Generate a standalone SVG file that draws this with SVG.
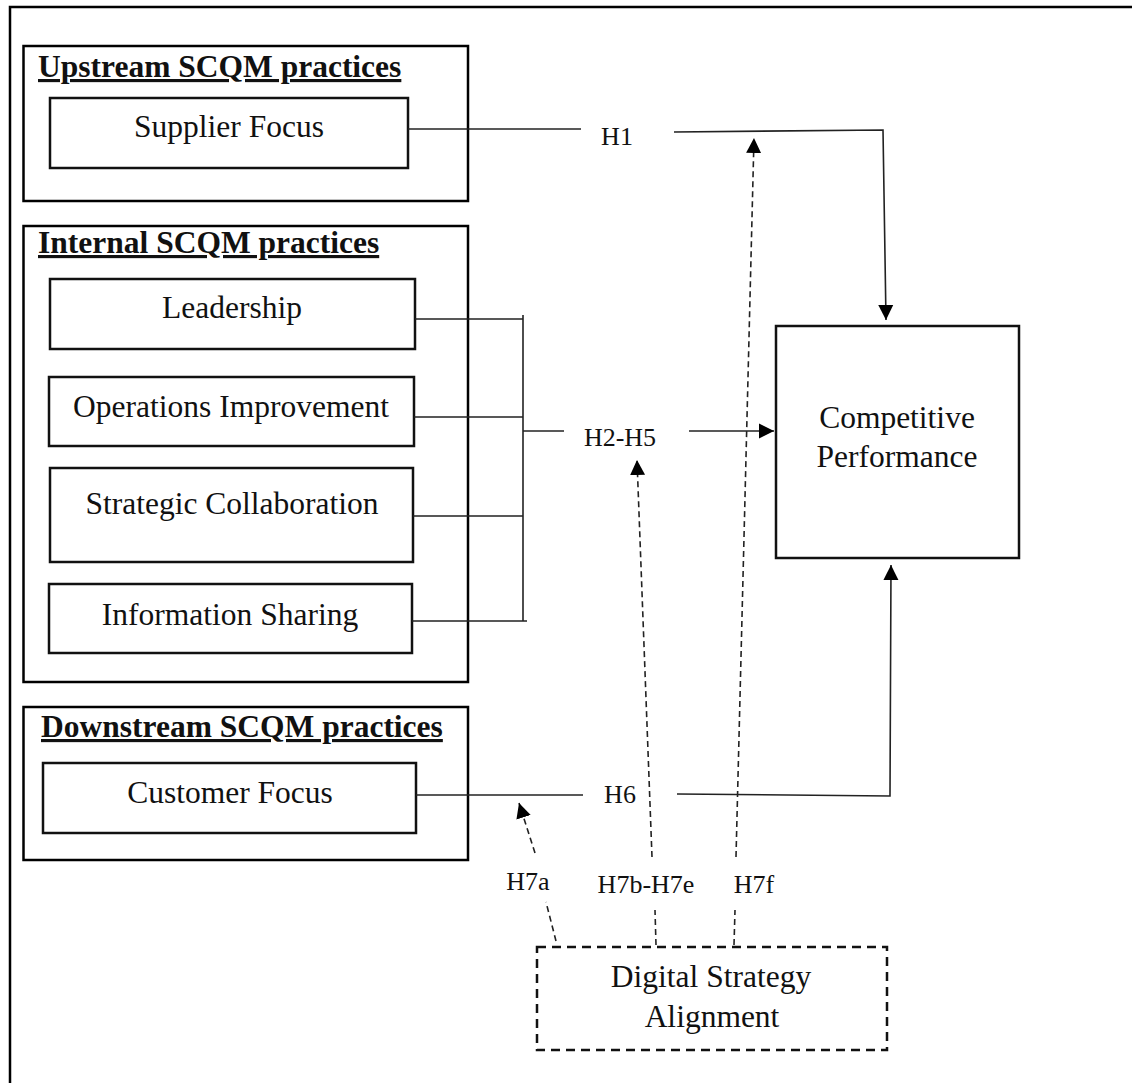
<svg xmlns="http://www.w3.org/2000/svg" width="1132" height="1083" viewBox="0 0 1132 1083">
<defs>
<style>
.frame{fill:none;stroke:#000;stroke-width:2.5}
.box{fill:#fff;stroke:#111;stroke-width:2.5}
.dbox{fill:#fff;stroke:#111;stroke-width:2.5;stroke-dasharray:9 6}
.t{font-family:"Liberation Serif","Times New Roman",serif;font-size:31.5px;fill:#111;text-anchor:middle}
.title{font-family:"Liberation Serif","Times New Roman",serif;font-size:31.5px;font-weight:bold;fill:#111;text-decoration:underline}
.h{font-family:"Liberation Serif","Times New Roman",serif;font-size:26px;fill:#111;text-anchor:middle}
.ln{fill:none;stroke:#222;stroke-width:1.6}
.dl{fill:none;stroke:#222;stroke-width:1.6;stroke-dasharray:6 4}
</style>
<marker id="ah" markerUnits="userSpaceOnUse" viewBox="0 0 16 16" markerWidth="16" markerHeight="16" refX="15" refY="8" orient="auto">
<path d="M0,0.5 L15,8 L0,15.5 z" fill="#000"/>
</marker>
</defs>
<rect width="1132" height="1083" fill="#fff"/>
<path class="frame" d="M10,1083 V7 H1132"/>

<g id="upstream">
<rect class="frame" x="23.5" y="46" width="444.5" height="155"/>
<text class="title" x="38" y="77">Upstream SCQM practices</text>
</g>
<g id="supplier-focus">
<rect class="box" x="50" y="98" width="358" height="70"/>
<text class="t" x="229" y="137">Supplier Focus</text>
</g>

<g id="internal">
<rect class="frame" x="23.5" y="226" width="444.5" height="456"/>
<text class="title" x="38" y="253">Internal SCQM practices</text>
</g>
<g id="leadership">
<rect class="box" x="50" y="279" width="365" height="70"/>
<text class="t" x="232" y="318">Leadership</text>
</g>
<g id="operations-improvement">
<rect class="box" x="49" y="377" width="365" height="69"/>
<text class="t" x="231" y="417">Operations Improvement</text>
</g>
<g id="strategic-collaboration">
<rect class="box" x="50" y="468" width="363" height="94"/>
<text class="t" x="232" y="514">Strategic Collaboration</text>
</g>
<g id="information-sharing">
<rect class="box" x="49" y="584" width="363" height="69"/>
<text class="t" x="230" y="625">Information Sharing</text>
</g>

<g id="downstream">
<rect class="frame" x="23.5" y="707" width="444.5" height="153"/>
<text class="title" x="41" y="737">Downstream SCQM practices</text>
</g>
<g id="customer-focus">
<rect class="box" x="43" y="763" width="373" height="70"/>
<text class="t" x="230" y="803">Customer Focus</text>
</g>

<g id="competitive-performance">
<rect class="box" x="776" y="326" width="243" height="232"/>
<text class="t" x="897" y="428">Competitive</text>
<text class="t" x="897" y="467">Performance</text>
</g>

<g id="digital-strategy-alignment">
<rect class="dbox" x="537" y="947" width="350" height="103"/>
<text class="t" x="711" y="987">Digital Strategy</text>
<text class="t" x="712" y="1027">Alignment</text>
</g>

<g id="connectors">
<path class="ln" d="M408,129 H581"/>
<path class="ln" d="M674,132 L883,130 L886,320" marker-end="url(#ah)"/>
<text class="h" x="617" y="145">H1</text>

<path class="ln" d="M415,319 H523 M414,417 H523 M413,516 H523 M412,621 H527 M523,315 V621"/>
<path class="ln" d="M523,431 H564"/>
<path class="ln" d="M689,431 H774" marker-end="url(#ah)"/>
<text class="h" x="620" y="446">H2-H5</text>

<path class="ln" d="M416,795 H583"/>
<path class="ln" d="M677,794 L890,796 L891,565" marker-end="url(#ah)"/>
<text class="h" x="620" y="803">H6</text>

<path class="dl" d="M556,941 L546,902"/>
<path class="dl" d="M535,853 L519,803" marker-end="url(#ah)"/>
<text class="h" x="528" y="890">H7a</text>

<path class="dl" d="M656,945 L655,910"/>
<path class="dl" d="M652,857 L637,460" marker-end="url(#ah)"/>
<text class="h" x="646" y="893">H7b-H7e</text>

<path class="dl" d="M734,945 L735,910"/>
<path class="dl" d="M736,857 L754,138" marker-end="url(#ah)"/>
<text class="h" x="754" y="893">H7f</text>
</g>
</svg>
